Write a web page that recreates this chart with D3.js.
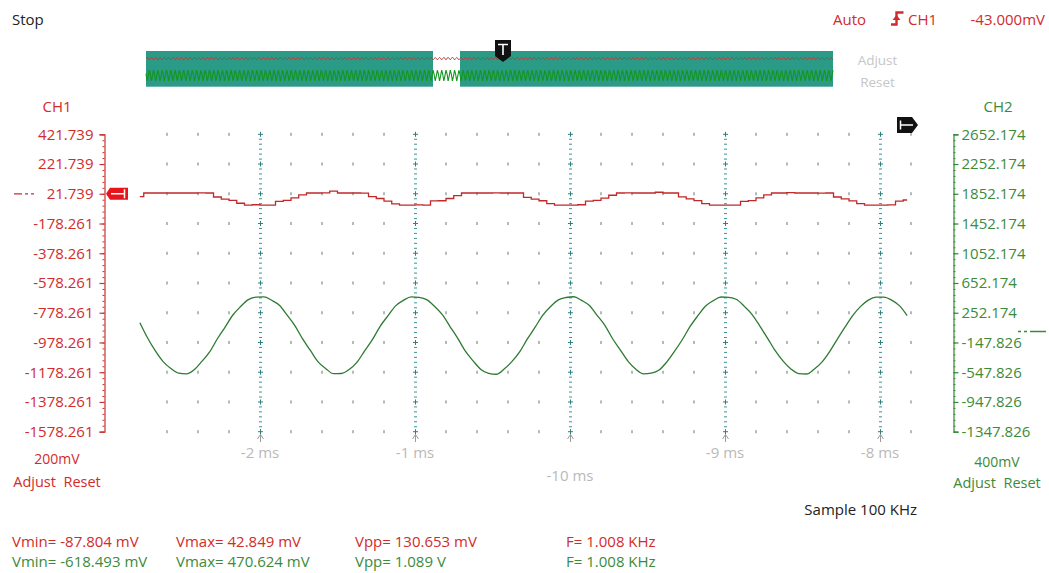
<!DOCTYPE html>
<html><head><meta charset="utf-8">
<script src="https://cdn.jsdelivr.net/npm/d3@7"></script>
<style>
body{margin:0;background:#fff;}
svg{display:block;font-family:"Open Sans","Noto Sans",sans-serif;}
</style></head><body>
<svg id="c" width="1049" height="573"></svg>
<script>
// ---------- data ----------
const ch1Ticks = [421.739, 221.739, 21.739, -178.261, -378.261, -578.261, -778.261, -978.261, -1178.261, -1378.261, -1578.261];
const ch2Ticks = [2652.174, 2252.174, 1852.174, 1452.174, 1052.174, 652.174, 252.174, -147.826, -547.826, -947.826, -1347.826];
const timeTicks = [-2, -1, 0, 1, 2];
const timeLabels = ["-2 ms", "-1 ms", "-10 ms", "-9 ms", "-8 ms"];
const sampleStart = -2.775;   // ms
const sampleStep = 0.05;      // ms
const ch1Values = [
  2, 27, 27, 27, 27, 27,
  27, 27, 28, 27, 0, -14, -22, -42, -54, -52, -54, -55, -30, -22, -6, 14, 27, 27, 28, 40,
  27, 27, 27, 26, 2, -10, -28, -46, -54, -55, -53, -54, -26, -25, -10, 10, 27, 27, 27, 27,
  28, 27, 27, 27, -2, -14, -25, -44, -55, -54, -54, -52, -28, -22, -8, 12, 27, 28, 27, 27,
  27, 32, 27, 27, 1, -12, -24, -45, -54, -54, -55, -54, -29, -24, -6, 14, 27, 27, 29, 27,
  27, 27, 26, 27, 0, -12, -26, -44, -54, -54, -54, -53, -28, -20
];
const ch2Values = [
  118, -88, -262, -405, -498, -560, -571, -515, -402, -275, -98, 60, 222, 335, 428, 462,
  465, 420, 352, 220, 80, -100, -255, -408, -500, -568, -565, -512, -415, -262, -110, 70, 210, 345, 418, 466,
  458, 428, 340, 230, 70, -90, -265, -395, -510, -562, -575, -505, -405, -275, -100, 58, 220, 336, 425, 457,
  467, 418, 350, 218, 82, -98, -250, -402, -508, -570, -560, -518, -408, -265, -108, 68, 212, 342, 415, 464,
  460, 430, 338, 228, 72, -92, -262, -398, -503, -566, -572, -508, -412, -270, -102, 62, 218, 338, 422, 461,
  463, 422, 348, 215
];
const statsCh1 = ["Vmin= -87.804 mV", "Vmax= 42.849 mV", "Vpp= 130.653 mV", "F= 1.008 KHz"];
const statsCh2 = ["Vmin= -618.493 mV", "Vmax= 470.624 mV", "Vpp= 1.089 V", "F= 1.008 KHz"];

// ---------- setup ----------
const RED = "#d22b2b", GREEN = "#3b8b3b", TRACE_RED = "#c0282a", TRACE_GREEN = "#2f7a33";
const svg = d3.select("#c");
const x = d3.scaleLinear().domain([-2.8, 2.2]).range([136, 911]);
const y1 = d3.scaleLinear().domain([-1578.261, 421.739]).range([431.7, 134.3]);
const y2 = d3.scaleLinear().domain([-1347.826, 2652.174]).range([431.7, 134.3]);
const t = i => sampleStart + i * sampleStep;

function txt(s, px, py, fill, size, anchor) {
  return svg.append("text").attr("x", px).attr("y", py).attr("fill", fill)
    .attr("font-size", size || 15).attr("text-anchor", anchor || "start").text(s);
}

// ---------- top texts ----------
txt("Stop", 12, 25, "#222");
txt("Auto", 833, 25, RED);
svg.append("path").attr("d", "M891,24.5 h5.5 v-12 h7").attr("fill", "none").attr("stroke", RED).attr("stroke-width", 2.4);
svg.append("path").attr("d", "M892.5,20 L896.5,15 L900.5,20 Z").attr("fill", RED);
txt("CH1", 908, 25, RED);
txt("-43.000mV", 1045, 25, RED, 15, "end");

// ---------- overview bar ----------
const ov = svg.append("g");
ov.append("rect").attr("x", 146).attr("y", 51).attr("width", 287).attr("height", 35.7).attr("fill", "#2b9a86");
ov.append("rect").attr("x", 460).attr("y", 51).attr("width", 373).attr("height", 35.7).attr("fill", "#2b9a86");
const nMini = 640;
const xm = d3.scaleLinear().domain([0, nMini - 1]).range([146, 833]);
const ym2 = d3.scaleLinear().domain([-620, 480]).range([81.5, 70]);
const ym1 = d3.scaleLinear().domain([-60, 45]).range([60, 57]);
const mini2 = d3.range(nMini).map(k => ch2Values[(k * 5) % 100]);
const mini1 = d3.range(nMini).map(k => ch1Values[(k * 5) % 100]);
ov.append("path").attr("d", d3.line().x((d, i) => xm(i)).y(d => ym2(d))(mini2))
  .attr("fill", "none").attr("stroke", "#14961e").attr("stroke-width", 1.1);
ov.append("path").attr("d", d3.line().x((d, i) => xm(i)).y(d => ym1(d))(mini1))
  .attr("fill", "none").attr("stroke", "#b3403a").attr("stroke-width", 1);
txt("Adjust", 877.5, 65, "#c6c6c6", 13.5, "middle");
txt("Reset", 877.5, 87, "#c6c6c6", 13.5, "middle");
// T marker
svg.append("path").attr("d", "M495,40 H511 V56 L503,62 L495,56 Z").attr("fill", "#111");
svg.append("path").attr("d", "M498,44.5 H508 M503,44.5 V55").attr("stroke", "#fff").attr("stroke-width", 1.6);

// ---------- grid ----------
const grid = svg.append("g");
const rowY = ch1Ticks.map(v => y1(v));
const rowStep = (y1(-1578.261) - y1(421.739)) / 10;
const minorCols = d3.range(25).map(k => -2.6 + 0.2 * k).filter(v => Math.abs(v - Math.round(v)) > 1e-6);
minorCols.forEach(c => {
  rowY.forEach(ry => {
    grid.append("line").attr("x1", x(c)).attr("x2", x(c)).attr("y1", ry - 1.5).attr("y2", ry + 1.5)
      .attr("stroke", "#5d7a6e").attr("stroke-width", 1);
  });
});
timeTicks.forEach(tt => {
  const cx = Math.round(x(tt)) + 0.5;
  for (let k = 0; k <= 60; k++) {
    const yy = y1(421.739) + k * rowStep / 6;
    if (k % 6 === 0) {
      grid.append("path").attr("d", `M${cx - 2.5},${yy} h5 M${cx},${yy - 2.5} v5`)
        .attr("stroke", "#2d8080").attr("stroke-width", 1);
    } else {
      grid.append("line").attr("x1", cx - 1.5).attr("x2", cx + 1.5).attr("y1", yy).attr("y2", yy)
        .attr("stroke", "#3a9393").attr("stroke-width", 1);
    }
  }
  grid.append("path").attr("d", `M${cx - 3},${439} L${cx},${434.5} L${cx + 3},${439} M${cx},${434.5} V${442}`)
    .attr("fill", "none").attr("stroke", "#9a9a9a").attr("stroke-width", 1);
});

// ---------- axes ----------
function styleAxis(g, color) {
  g.select(".domain").attr("stroke", color).attr("stroke-width", 1.2);
  g.selectAll(".tick line").attr("stroke", color).attr("stroke-width", 1.2);
  g.selectAll(".tick text").attr("fill", color).attr("font-size", 15)
    .attr("font-family", '"Open Sans","Noto Sans",sans-serif');
}
const ch1Minor = d3.range(51).map(k => -1578.261 + 40 * k);
const ch2Minor = d3.range(51).map(k => -1347.826 + 80 * k);

const gL = svg.append("g").attr("transform", "translate(104.5,0)");
gL.append("g").call(d3.axisLeft(y1).tickValues(ch1Minor).tickSize(2).tickSizeOuter(0).tickFormat(""))
  .call(g => { g.select(".domain").remove(); g.selectAll("line").attr("stroke", RED); });
gL.append("g").call(d3.axisLeft(y1).tickValues(ch1Ticks).tickSize(5).tickSizeOuter(5).tickPadding(6)
  .tickFormat(d => d.toFixed(3))).call(g => styleAxis(g, "#c83232"));
gL.selectAll("text").attr("fill", RED);

const gR = svg.append("g").attr("transform", "translate(953.5,0)");
gR.append("g").call(d3.axisRight(y2).tickValues(ch2Minor).tickSize(2).tickSizeOuter(0).tickFormat(""))
  .call(g => { g.select(".domain").remove(); g.selectAll("line").attr("stroke", GREEN); });
gR.append("g").call(d3.axisRight(y2).tickValues(ch2Ticks).tickSize(5).tickSizeOuter(5).tickPadding(3)
  .tickFormat(d => d.toFixed(3))).call(g => styleAxis(g, "#2f8a35"));
gR.selectAll("text").attr("fill", GREEN);

// channel headers / footers
txt("CH1", 57, 112, RED, 15, "middle");
txt("CH2", 998, 112, GREEN, 15, "middle");
txt("200mV", 57, 464, RED, 14, "middle");
txt("Adjust  Reset", 57, 487, RED, 14.5, "middle").attr("xml:space", "preserve").style("white-space", "pre");
txt("400mV", 997, 467, GREEN, 14, "middle");
txt("Adjust  Reset", 997, 488, GREEN, 14.5, "middle").style("white-space", "pre");

// zero markers
svg.append("line").attr("x1", 14).attr("x2", 35).attr("y1", y1(21.739)).attr("y2", y1(21.739))
  .attr("stroke", RED).attr("stroke-width", 1.3).attr("stroke-dasharray", "8,3,3,3,3,3");
svg.append("line").attr("x1", 1018).attr("x2", 1046).attr("y1", y2(0)).attr("y2", y2(0))
  .attr("stroke", GREEN).attr("stroke-width", 1.3).attr("stroke-dasharray", "3,3,3,3,16");
const my = y1(21.739);
svg.append("path").attr("d", `M106,${my} L110,${my - 6} H128 V${my + 6} H110 Z`).attr("fill", "#e8141b");
svg.append("path").attr("d", `M111,${my} H124.5 M124.5,${my - 4.5} V${my + 4.5}`).attr("stroke", "#fff").attr("stroke-width", 1.5);
svg.append("path").attr("d", "M897,117 H912 L918,125 L912,133 H897 Z").attr("fill", "#111");
svg.append("path").attr("d", "M900,125 H913 M900.5,120.5 V129.5").attr("stroke", "#fff").attr("stroke-width", 1.5);

// ---------- traces ----------
svg.append("path").datum(ch2Values)
  .attr("d", d3.line().x((d, i) => x(t(i))).y(d => y2(d)).curve(d3.curveMonotoneX))
  .attr("fill", "none").attr("stroke", TRACE_GREEN).attr("stroke-width", 1.3);
svg.append("path").datum(ch1Values)
  .attr("d", d3.line().x((d, i) => x(t(i))).y(d => y1(d)).curve(d3.curveStep))
  .attr("fill", "none").attr("stroke", TRACE_RED).attr("stroke-width", 1.3);

// ---------- time labels ----------
timeTicks.forEach((tt, k) => {
  const low = timeLabels[k] === "-10 ms";
  txt(timeLabels[k], x(tt), low ? 481 : 458, "#b9b9b9", 15, "middle");
});

txt("Sample 100 KHz", 917, 515, "#222", 15, "end");

// ---------- stats ----------
const statX = [12, 176, 355, 566];
statsCh1.forEach((s, k) => txt(s, statX[k], 547, RED, 15));
statsCh2.forEach((s, k) => txt(s, statX[k], 567, GREEN, 15));
</script>
</body></html>
